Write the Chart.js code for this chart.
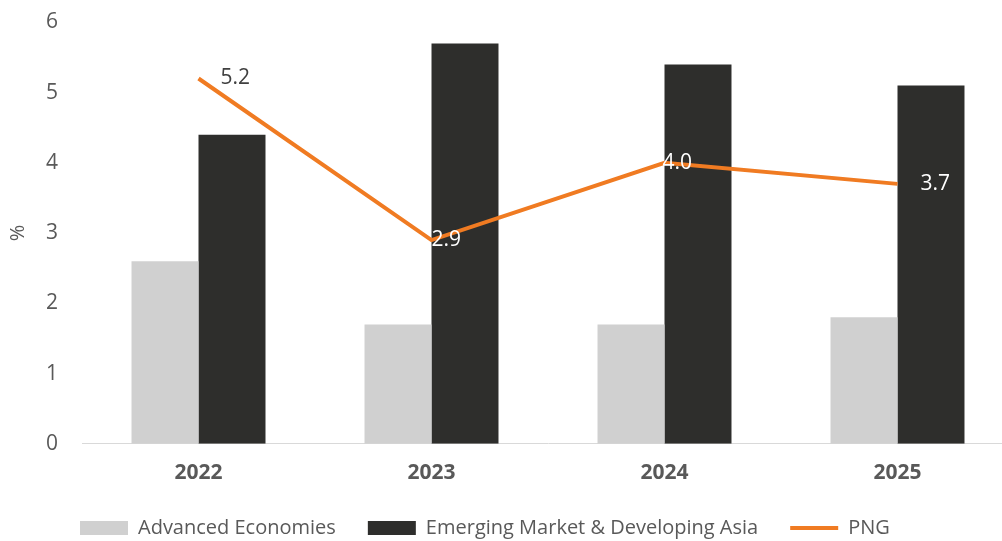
<!DOCTYPE html>
<html lang="en">
<head>
    <meta charset="UTF-8">
    <title>Growth chart</title>
    <style>
        body {
            margin: 0;
            background: white;
            overflow: hidden;
        }
        #wrap {
            width: 1002px;
            height: 541px;
            overflow: hidden;
        }
    </style>
    <script src="https://cdn.jsdelivr.net/npm/chart.js"></script>
</head>
<body>
    <div id="wrap">
        <canvas id="growthChart" width="1014" height="541"></canvas>
    </div>
    <script>
        const years = ['2022', '2023', '2024', '2025'];
        const advanced = [2.6, 1.7, 1.7, 1.8];
        const emergingAsia = [4.4, 5.7, 5.4, 5.1];
        const png = [5.2, 2.9, 4.0, 3.7];
        const yTicks = [0, 1, 2, 3, 4, 5, 6];

        const textGray = '#595959';
        const fontFamily = '"Open Sans", sans-serif';

        // value labels next to the PNG line points
        const pngLabels = {
            id: 'pngLabels',
            afterLayout(chart) {
                // legend sits lower and starts under the y axis like the original
                const lg = chart.legend;
                lg.left = 68;
                lg.top += 11;
                lg.bottom += 11;
            },
            afterDatasetsDraw(chart) {
                const meta = chart.getDatasetMeta(2);
                const ctx = chart.ctx;
                const offsets = [22, 0, -2, 23];
                const colors = ['#404040', 'white', 'white', 'white'];
                ctx.save();
                ctx.font = '21px ' + fontFamily;
                ctx.textAlign = 'left';
                ctx.textBaseline = 'middle';
                meta.data.forEach((pt, i) => {
                    ctx.fillStyle = colors[i];
                    ctx.fillText(png[i].toFixed(1), pt.x + offsets[i], pt.y);
                });
                ctx.restore();
            }
        };

        const ctx = document.getElementById('growthChart').getContext('2d');
        new Chart(ctx, {
            data: {
                labels: years,
                datasets: [
                    {
                        type: 'bar',
                        label: 'Advanced Economies',
                        data: advanced,
                        backgroundColor: '#d0d0d0',
                        categoryPercentage: 0.575,
                        barPercentage: 1.0,
                        order: 1
                    },
                    {
                        type: 'bar',
                        label: 'Emerging Market & Developing Asia',
                        data: emergingAsia,
                        backgroundColor: '#2e2e2c',
                        categoryPercentage: 0.575,
                        barPercentage: 1.0,
                        order: 1
                    },
                    {
                        type: 'line',
                        label: 'PNG',
                        data: png,
                        borderColor: '#f07b22',
                        backgroundColor: '#f07b22',
                        borderWidth: 4,
                        pointRadius: 0,
                        tension: 0,
                        order: 0
                    }
                ]
            },
            options: {
                responsive: false,
                animation: false,
                layout: {
                    padding: { top: 0, right: 0, left: 6, bottom: 4 }
                },
                scales: {
                    x: {
                        grid: { display: false },
                        border: { color: '#d9d9d9', width: 1 },
                        ticks: {
                            color: textGray,
                            font: { family: fontFamily, size: 21, weight: 'bold' },
                            padding: 9
                        }
                    },
                    y: {
                        min: 0,
                        max: 6,
                        afterBuildTicks: (axis) => {
                            axis.ticks = yTicks.map(v => ({ value: v }));
                        },
                        grid: { display: false },
                        border: { display: false },
                        ticks: {
                            color: textGray,
                            font: { family: fontFamily, size: 21, lineHeight: 0.6 },
                            padding: 16
                        },
                        title: {
                            display: true,
                            text: '%',
                            color: textGray,
                            font: { family: fontFamily, size: 20 },
                            padding: 0
                        }
                    }
                },
                plugins: {
                    legend: {
                        position: 'bottom',
                        align: 'start',
                        labels: {
                            color: textGray,
                            font: { family: fontFamily, size: 20 },
                            usePointStyle: true,
                            pointStyleWidth: 48,
                            boxHeight: 14,
                            padding: 12,
                            sort: (a, b) => a.datasetIndex - b.datasetIndex,
                            generateLabels(chart) {
                                const items = Chart.defaults.plugins.legend.labels.generateLabels(chart);
                                items.forEach(item => {
                                    item.pointStyle = item.datasetIndex === 2 ? 'line' : 'rect';
                                    item.lineWidth = item.datasetIndex === 2 ? 4 : 0;
                                    item.text = item.text + '\u2002\u2002';
                                });
                                return items;
                            }
                        }
                    },
                    tooltip: { enabled: false }
                }
            },
            plugins: [pngLabels]
        });
    </script>
</body>
</html>
